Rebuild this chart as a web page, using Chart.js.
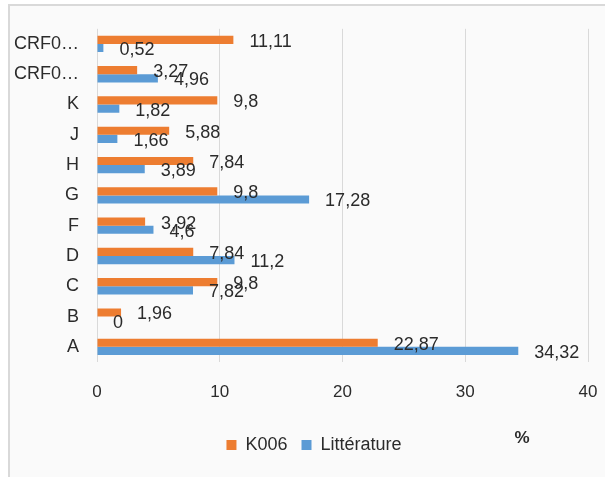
<!DOCTYPE html>
<html>
<head>
<meta charset="utf-8">
<script src="https://cdn.jsdelivr.net/npm/chart.js@4.4.0/dist/chart.umd.min.js"></script>
<style>
  html, body { margin: 0; padding: 0; background: #ffffff; overflow: hidden; }
  #frame {
    position: absolute; left: 8px; top: 4px; width: 640px; height: 520px;
    border: 2px solid #d9d9d9; background: #fafafa;
  }
  #wrap { position: absolute; left: 0; top: 0; width: 605px; height: 477px; }
</style>
</head>
<body>
<div id="frame"></div>
<div id="wrap"><canvas id="js--chart"></canvas></div>
<script>
// categories, top to bottom
const categories = ["CRF0…", "CRF0…", "K", "J", "H", "G", "F", "D", "C", "B", "A"];

// valeurs en %
const k006 = [11.11, 3.27, 9.8, 5.88, 7.84, 9.8, 3.92, 7.84, 9.8, 1.96, 22.87];
const litterature = [0.52, 4.96, 1.82, 1.66, 3.89, 17.28, 4.6, 11.2, 7.82, 0, 34.32];

const xTicks = [0, 10, 20, 30, 40];

const fontName = "'Liberation Sans', Arial, sans-serif";
const textColor = "#2b2b2b";

// labels naast de balken
const valueLabels = {
    id: "valueLabels",
    afterDatasetsDraw: function (chart) {
        const ctx = chart.ctx;
        ctx.save();
        ctx.font = "18px " + fontName;
        ctx.fillStyle = textColor;
        ctx.textAlign = "left";
        ctx.textBaseline = "middle";
        chart.data.datasets.forEach(function (ds, i) {
            const meta = chart.getDatasetMeta(i);
            meta.data.forEach(function (bar, j) {
                const txt = String(ds.data[j]).replace(".", ",");
                ctx.fillText(txt, bar.x + 16, bar.y + 2);
            });
        });
        ctx.restore();
    }
};

// % teken rechts onder
const percentSign = {
    id: "percentSign",
    afterDraw: function (chart) {
        const ctx = chart.ctx;
        ctx.save();
        ctx.font = "bold 17px " + fontName;
        ctx.fillStyle = textColor;
        ctx.textAlign = "center";
        ctx.textBaseline = "middle";
        ctx.fillText("%", 522, 438);
        ctx.restore();
    }
};

// legende iets naar rechts schuiven
const legendShift = {
    id: "legendShift",
    afterLayout: function (chart) {
        chart.legend.left += 20;
        chart.legend.right += 20;
    }
};

const config = {
    type: "bar",
    data: {
        labels: categories,
        datasets: [
            {
                label: "K006",
                data: k006,
                backgroundColor: "#ED7D31",
                barPercentage: 1,
                categoryPercentage: 0.54
            },
            {
                label: "Littérature",
                data: litterature,
                backgroundColor: "#5B9BD5",
                barPercentage: 1,
                categoryPercentage: 0.54
            }
        ]
    },
    options: {
        indexAxis: "y",
        responsive: true,
        maintainAspectRatio: false,
        animation: false,
        layout: { padding: { top: 28, right: 17, left: 0, bottom: 13 } },
        scales: {
            x: {
                min: 0,
                max: 40,
                afterBuildTicks: function (scale) {
                    scale.ticks = xTicks.map(function (v) { return { value: v }; });
                },
                afterFit: function (scale) {
                    scale.height = 60;
                    scale.paddingLeft = 0;
                    scale.paddingRight = 0;
                },
                grid: { color: "#d9d9d9", drawTicks: false },
                border: { display: false },
                ticks: {
                    padding: 20,
                    color: textColor,
                    font: { family: fontName, size: 17 }
                }
            },
            y: {
                afterFit: function (scale) { scale.width = 97; },
                grid: { display: false, drawTicks: false },
                border: { display: false },
                ticks: {
                    padding: 18,
                    color: textColor,
                    font: { family: fontName, size: 18 }
                }
            }
        },
        plugins: {
            tooltip: { enabled: false },
            legend: {
                position: "bottom",
                labels: {
                    boxWidth: 10,
                    boxHeight: 10,
                    padding: 14,
                    color: textColor,
                    font: { family: fontName, size: 18 }
                }
            }
        }
    },
    plugins: [valueLabels, percentSign, legendShift]
};

new Chart(document.getElementById("js--chart"), config);
</script>
</body>
</html>
